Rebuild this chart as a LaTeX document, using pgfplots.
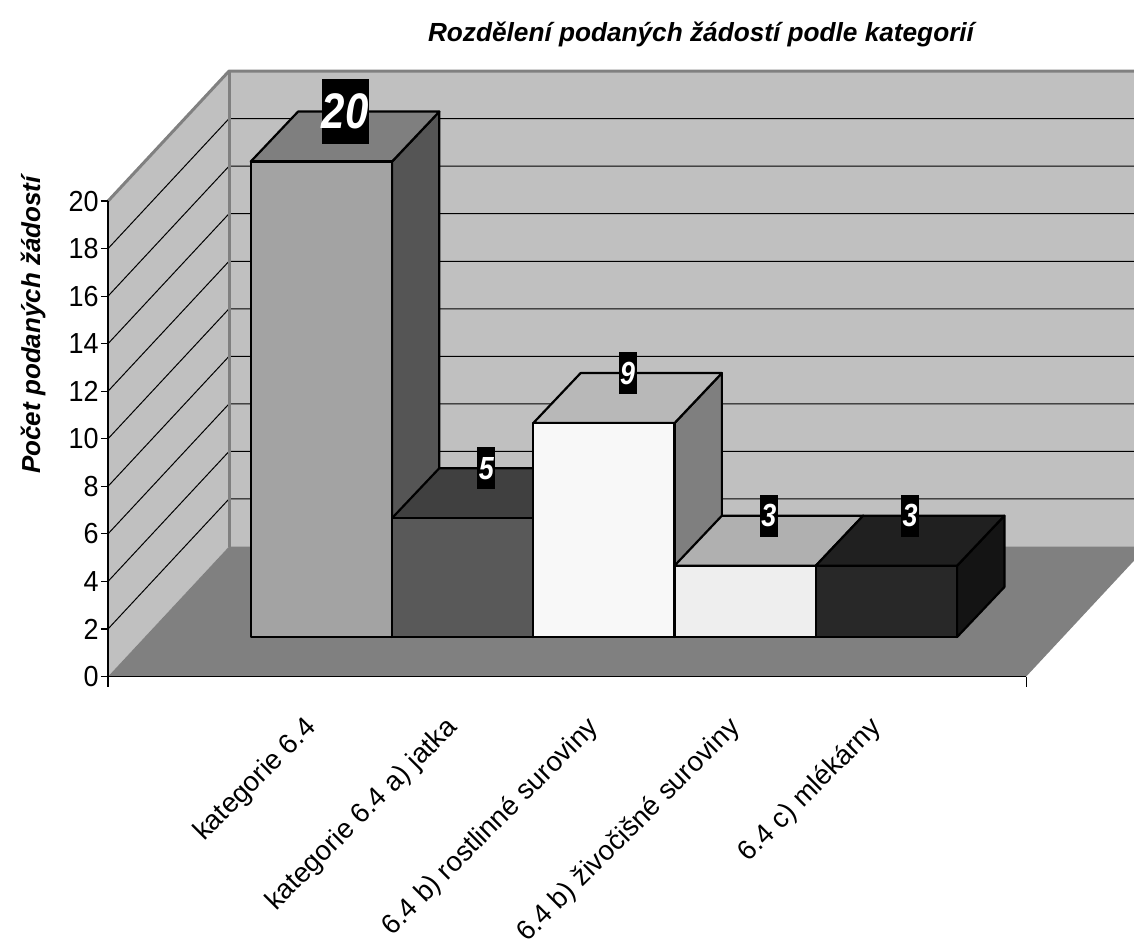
\documentclass[border=0pt]{standalone}
\usepackage{fontspec}
\setmainfont{Liberation Sans}
\newfontfamily\narrowfont[FakeStretch=0.84]{Liberation Sans}
\newfontfamily\tickfont[FakeStretch=0.93]{Liberation Sans}
\usepackage{pgfplots}
\usepackage{pgfplotstable}
\pgfplotsset{compat=1.18}

\definecolor{wall}{HTML}{C0C0C0}
\definecolor{walledge}{HTML}{808080}
\definecolor{floorc}{HTML}{808080}
\definecolor{fA}{HTML}{A3A3A3}\definecolor{tA}{HTML}{7F7F7F}\definecolor{sA}{HTML}{555555}
\definecolor{fB}{HTML}{595959}\definecolor{tB}{HTML}{404040}\definecolor{sB}{HTML}{333333}
\definecolor{fC}{HTML}{F8F8F8}\definecolor{tC}{HTML}{B8B8B8}\definecolor{sC}{HTML}{7F7F7F}
\definecolor{fD}{HTML}{EEEEEE}\definecolor{tD}{HTML}{B0B0B0}\definecolor{sD}{HTML}{777777}
\definecolor{fE}{HTML}{282828}\definecolor{tE}{HTML}{202020}\definecolor{sE}{HTML}{141414}

% values of the chart
\pgfplotstableread{
idx value front top side lab
0 20 fA tA sA labbig
1 5  fB tB sB labsmall
2 9  fC tC sC labsmall
3 3  fD tD sD labsmall
4 3  fE tE sE labsmall
}\datatable

% depth geometry (axis units)
\def\ox{0.2605}\def\oy{1.662}
\def\ddx{0.335}\def\ddy{2.103}

\tikzset{
  barface/.style={draw=black, line width=1.1pt, line join=round, mark=none},
  labbig/.style={fill=black, text=white, inner sep=0pt, minimum width=23.5pt, minimum height=32.5pt,
     font=\narrowfont\bfseries\itshape\fontsize{25}{25}\selectfont},
  labsmall/.style={fill=black, text=white, inner sep=0pt, minimum width=9pt, minimum height=21pt,
     font=\narrowfont\bfseries\itshape\fontsize{16}{16}\selectfont},
}

\newcommand\drawbar[6]{%
  \pgfmathsetmacro\xa{#1-0.5+\ox}%
  \pgfmathsetmacro\xb{#1+0.5+\ox}%
  \pgfmathsetmacro\xc{\xa+\ddx}%
  \pgfmathsetmacro\xd{\xb+\ddx}%
  \pgfmathsetmacro\ya{\oy}%
  \pgfmathsetmacro\yb{\oy+#2}%
  \pgfmathsetmacro\yc{\oy+\ddy}%
  \pgfmathsetmacro\yd{\oy+\ddy+#2}%
  \pgfmathsetmacro\xl{#1+\ox+\ddx/2}%
  \edef\tmp{%
    \noexpand\addplot[barface,fill=#5] coordinates {(\xb,\ya) (\xd,\yc) (\xd,\yd) (\xb,\yb)} -- cycle;%
    \noexpand\addplot[barface,fill=#4] coordinates {(\xa,\yb) (\xc,\yd) (\xd,\yd) (\xb,\yb)} -- cycle;%
    \noexpand\addplot[barface,fill=#3] coordinates {(\xa,\ya) (\xb,\ya) (\xb,\yb) (\xa,\yb)} -- cycle;%
    \noexpand\node[#6] at (axis cs:\xl,\yd) {#2};%
  }\tmp
}

\begin{document}
\begin{tikzpicture}
\begin{axis}[
  x=70.63pt, y=11.885pt,
  xmin=-1.25, xmax=5.25, ymin=0, ymax=20,
  axis x line*=bottom, axis y line*=left,
  axis line style={black, line width=0.6pt, -},
  clip=false, axis on top,
  ytick={0,2,...,20},
  xtick={0,...,4},
  xticklabels={kategorie 6.4, kategorie 6.4 a) jatka, 6.4 b) rostlinné suroviny, 6.4 b) živočišné suroviny, 6.4 c) mlékárny},
  tick align=outside,
  major tick length=3.5pt,
  xtick style={draw=none},
  ytick style={black, line width=0.6pt},
  /pgf/number format/assume math mode=true,
  yticklabel style={font=\tickfont\fontsize{14.5}{16}\selectfont, inner sep=1pt},
  xticklabel style={rotate=45, anchor=east, font=\fontsize{13.8}{16}\selectfont, xshift=-1.1pt, yshift=-24pt},
]
% walls and floor
\addplot[fill=wall, draw=none, mark=none] coordinates {(-1.25,0) (-0.3934,5.469) (-0.3934,25.469) (-1.25,20)} -- cycle;
\addplot[fill=wall, draw=none, mark=none] coordinates {(-0.3934,5.469) (6.1066,5.469) (6.1066,25.469) (-0.3934,25.469)} -- cycle;
\addplot[fill=floorc, draw=none, mark=none] coordinates {(-1.25,0) (5.25,0) (6.1066,5.469) (-0.3934,5.469)} -- cycle;
% gridlines
\pgfplotsinvokeforeach{2,4,...,18}{
  \draw[black, line width=0.5pt] (axis cs:-1.25,#1) -- (axis cs:-0.3934,{5.469+#1}) -- (axis cs:6.1066,{5.469+#1});
}
\draw[walledge, line width=1.5pt, line join=round] (axis cs:-1.25,20) -- (axis cs:-0.3934,25.469) -- (axis cs:6.1066,25.469);
\draw[walledge, line width=1.5pt] (axis cs:-0.3934,5.469) -- (axis cs:-0.3934,25.469);
% bars
\pgfplotsforeachungrouped \i in {0,...,4}{%
  \pgfplotstablegetelem{\i}{value}\of\datatable \let\v\pgfplotsretval
  \pgfplotstablegetelem{\i}{front}\of\datatable \let\cf\pgfplotsretval
  \pgfplotstablegetelem{\i}{top}\of\datatable \let\ct\pgfplotsretval
  \pgfplotstablegetelem{\i}{side}\of\datatable \let\cs\pgfplotsretval
  \pgfplotstablegetelem{\i}{lab}\of\datatable \let\cl\pgfplotsretval
  \edef\call{\noexpand\drawbar{\i}{\v}{\cf}{\ct}{\cs}{\cl}}\call
}
% axis end ticks
\draw[black, line width=0.6pt] (axis cs:-1.25,0) -- (axis cs:-1.25,-0.42);
\draw[black, line width=0.6pt] (axis cs:5.25,0) -- (axis cs:5.25,-0.42);
% titles
\node[font=\bfseries\itshape\fontsize{13.1}{15}\selectfont, anchor=base] at (axis cs:2.948,26.70) {Rozdělení podaných žádostí podle kategorií};
\node[font=\bfseries\itshape\fontsize{13}{15}\selectfont, anchor=base, rotate=90] at (axis cs:-1.73,14.79) {Počet podaných žádostí};
\coordinate (bbA) at (axis cs:-2.0145,28.46);
\coordinate (bbB) at (axis cs:6.013,-11.13);
\end{axis}
\pgfresetboundingbox
\path[use as bounding box] (bbA) rectangle (bbB);
\end{tikzpicture}
\end{document}
